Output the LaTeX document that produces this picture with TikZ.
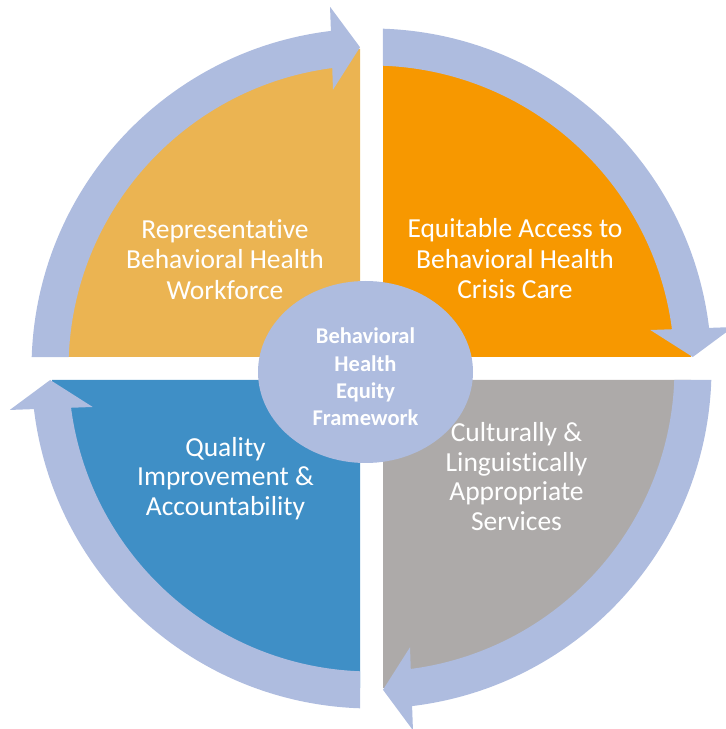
\documentclass[tikz,border=0pt]{standalone}
\usepackage{fontspec}
\setmainfont{Carlito}[Ligatures={NoCommon,NoRare,NoContextual}]
\usetikzlibrary{calc,shapes.geometric}
\definecolor{qyellow}{HTML}{EBB452}
\definecolor{qorange}{HTML}{F79800}
\definecolor{qgray}{HTML}{ADAAA9}
\definecolor{qblue}{HTML}{3F8FC6}
\definecolor{ringc}{HTML}{AEBCDF}
\begin{document}
\begin{tikzpicture}[x=1pt,y=1pt,
  ringfill/.style={fill=ringc},
  lbl/.style={text=white, align=center, inner sep=0pt},
  bigfont/.style={font=\fontsize{27.5}{30.5}\selectfont},
  lowfont/.style={font=\fontsize{27.5}{29.5}\selectfont},
  hub/.style={ellipse, fill=ringc, inner sep=0pt, minimum width=215, minimum height=182},
  hubtext/.style={text=white, align=center, inner sep=0pt, font=\bfseries\fontsize{22.5}{27.3}\selectfont}
]
\useasboundingbox (0,0) rectangle (726,729);
\coordinate (C) at (371.5,360.5);

% quadrants
\fill[qyellow] (360,372) -- ++(180:308) arc[start angle=180, end angle=90, radius=308] -- cycle;
\fill[qorange] (383,372) -- ++(90:308) arc[start angle=90, end angle=0, radius=308] -- cycle;
\fill[qgray] (383,349) -- ++(0:308) arc[start angle=0, end angle=-90, radius=308] -- cycle;
\fill[qblue] (360,349) -- ++(-90:308) arc[start angle=-90, end angle=-180, radius=308] -- cycle;

% circular arrows
\foreach \b in {180,90,0,-90} {
  \fill[ringfill] ($(C)+(\b-2.175:303)$) -- ($(C)+(\b-1.938:340)$)
    arc[start angle=\b-1.938, end angle=\b-84, radius=340]
    -- ($(C)+(\b-84:303)$)
    arc[start angle=\b-84, end angle=\b-2.175, radius=303] -- cycle;
  \coordinate (T) at ($(C)+(\b-87.95:321.5)$);
  \fill[ringfill] (T) -- ($(T)+(\b+2.05:28.5)+(\b-87.95:41.5)$)
    -- ($(T)+(\b+2.05:28.5)+(\b+92.05:41.5)$) -- cycle;
}

% labels
\node[lbl,bigfont] (work) at (225,469.7) {Representative\\Behavioral Health\\Workforce};
\node[lbl,bigfont] (access) at (515,470.3) {Equitable Access to\\Behavioral Health\\Crisis Care};
\node[lbl,lowfont] (quality) at (225.5,250.5) {Quality\\Improvement \&\\Accountability};
\node[lbl,lowfont] (culture) at (516.5,252.5) {Culturally \&\\Linguistically\\Appropriate\\Services};

% hub
\node[hub] (hub) at (365.5,357) {};
\node[hubtext] (hubtxt) at (365.5,352) {Behavioral\\Health\\Equity\\Framework};
\end{tikzpicture}
\end{document}
